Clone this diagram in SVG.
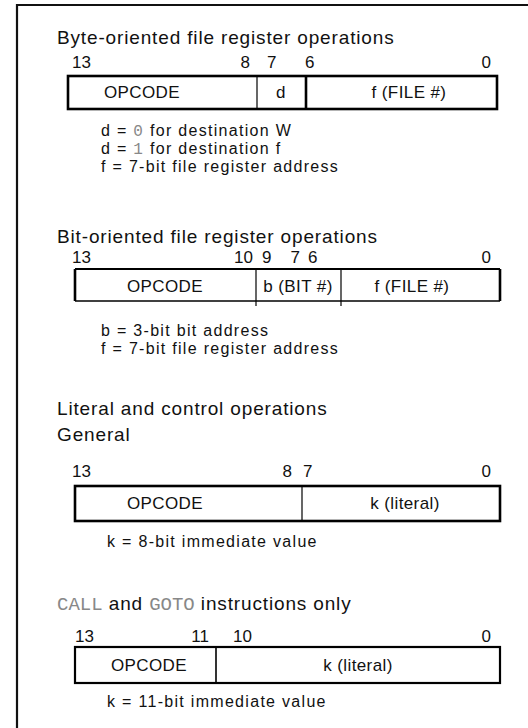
<svg xmlns="http://www.w3.org/2000/svg" width="528" height="728" viewBox="0 0 528 728">
<style>
text{font-family:"Liberation Sans",Arial,sans-serif;fill:#111;}
.t{font-size:19px;letter-spacing:0.85px;}
.n{font-size:16px;letter-spacing:1.3px;}
.b{font-size:17px;}
.l{font-size:17px;letter-spacing:0.4px;}
.m{font-family:"Liberation Mono","Courier New",monospace;fill:#888;}
.thick{fill:none;stroke:#000;stroke-width:2.6;}
.thin{stroke:#000;stroke-width:1.2;fill:none;}
.e{text-anchor:end;}
.c{text-anchor:middle;}
</style>
<g id="frame">
<path d="M17,728 V5 H528" fill="none" stroke="#111" stroke-width="2.2"/>
</g>

<g id="byte-oriented">
<text class="t" x="57" y="44">Byte-oriented file register operations</text>
<text class="b" x="72" y="68">13</text>
<text class="b e" x="250" y="68">8</text>
<text class="b" x="267" y="68">7</text>
<text class="b" x="305" y="68">6</text>
<text class="b e" x="491" y="68">0</text>
<rect class="thick" x="68" y="76" width="429" height="33"/>
<line class="thin" x1="257" y1="76" x2="257" y2="109"/>
<line x1="306" y1="76" x2="306" y2="109" stroke="#000" stroke-width="2.6"/>
<text class="l c" x="142" y="98">OPCODE</text>
<text class="l c" x="281" y="98">d</text>
<text class="l c" x="409" y="98">f (FILE #)</text>
<text class="n" x="101" y="136">d = <tspan class="m">0</tspan> for destination W</text>
<text class="n" x="101" y="154">d = <tspan class="m">1</tspan> for destination f</text>
<text class="n" x="101" y="172">f = 7-bit file register address</text>
</g>

<g id="bit-oriented">
<text class="t" x="57" y="243">Bit-oriented file register operations</text>
<text class="b" x="72" y="263">13</text>
<text class="b e" x="253" y="263">10</text>
<text class="b" x="262" y="263">9</text>
<text class="b e" x="300" y="263">7</text>
<text class="b" x="308" y="263">6</text>
<text class="b e" x="491" y="263">0</text>
<path d="M75,269 V301 M500,269 V301" class="thick"/>
<path d="M75,269 H500" fill="none" stroke="#000" stroke-width="2"/>
<path d="M75,301 H500" fill="none" stroke="#000" stroke-width="1.5"/>
<line class="thin" x1="256" y1="269" x2="256" y2="306"/>
<line class="thin" x1="341" y1="269" x2="341" y2="306"/>
<text class="l c" x="165" y="292">OPCODE</text>
<text class="l c" x="298" y="292">b (BIT #)</text>
<text class="l c" x="412" y="292">f (FILE #)</text>
<text class="n" x="101" y="336">b = 3-bit bit address</text>
<text class="n" x="101" y="354">f = 7-bit file register address</text>
</g>

<g id="literal-general">
<text class="t" x="57" y="415">Literal and control operations</text>
<text class="t" x="57" y="441">General</text>
<text class="b" x="72" y="477">13</text>
<text class="b e" x="292" y="477">8</text>
<text class="b" x="303" y="477">7</text>
<text class="b e" x="491" y="477">0</text>
<rect class="thick" x="75" y="486" width="425" height="35"/>
<line class="thin" x1="302" y1="486" x2="302" y2="521"/>
<text class="l c" x="165" y="509">OPCODE</text>
<text class="l c" x="405" y="509">k (literal)</text>
<text class="n" x="107" y="547">k = 8-bit immediate value</text>
</g>

<g id="call-goto">
<text class="t" x="57" y="610"><tspan class="m" style="letter-spacing:0">CALL</tspan> and <tspan class="m" style="letter-spacing:0">GOTO</tspan> instructions only</text>
<text class="b" x="75" y="642">13</text>
<text class="b e" x="209" y="642">11</text>
<text class="b" x="233" y="642">10</text>
<text class="b e" x="491" y="642">0</text>
<rect x="75" y="647" width="425" height="36" fill="none" stroke="#000" stroke-width="2.2"/>
<line x1="216" y1="647" x2="216" y2="683" stroke="#000" stroke-width="1.6"/>
<text class="l c" x="149" y="671">OPCODE</text>
<text class="l c" x="358" y="671">k (literal)</text>
<text class="n" x="107" y="707">k = 11-bit immediate value</text>
</g>
</svg>
